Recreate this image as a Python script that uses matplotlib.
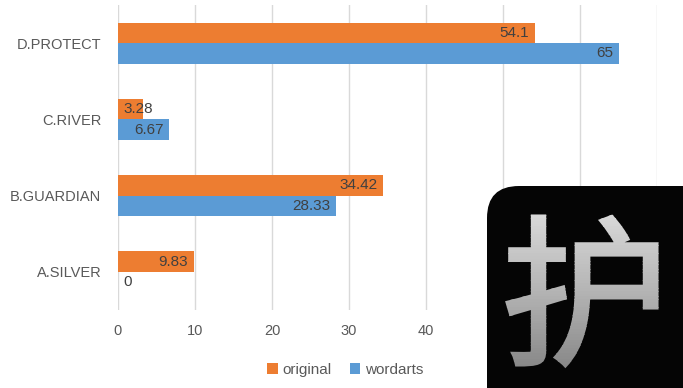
import numpy as np
import matplotlib
matplotlib.use("Agg")
import matplotlib.pyplot as plt
from matplotlib.patches import FancyBboxPatch, PathPatch, Rectangle
from matplotlib.textpath import TextPath
from matplotlib.font_manager import FontProperties
from matplotlib.transforms import Affine2D
from matplotlib.colors import LinearSegmentedColormap

plt.rcParams['font.family'] = ['Liberation Sans', 'DejaVu Sans']

categories = ['A.SILVER', 'B.GUARDIAN', 'C.RIVER', 'D.PROTECT']
original = [9.83, 34.42, 3.28, 54.1]
wordarts = [0, 28.33, 6.67, 65]
x_ticks = [0, 10, 20, 30, 40, 50, 60, 70]

c_orig = '#ED7D31'
c_word = '#5B9BD5'
grey = '#595959'

fig = plt.figure(figsize=(6.83, 3.88), dpi=100)
ax = fig.add_axes([118 / 683, 78 / 388, 539 / 683, 305 / 388])

y = np.arange(len(categories))
h = 0.27
ax.barh(y + h / 2, original, height=h, color=c_orig, label='original', zorder=3)
ax.barh(y - h / 2, wordarts, height=h, color=c_word, label='wordarts', zorder=3)

# value labels: inside the bar end, or from the base when the bar is too short
for vals, off in ((original, h / 2), (wordarts, -h / 2)):
    for yi, v in zip(y, vals):
        if v < 5:
            ax.annotate(f'{v:g}', (0, yi + off), xytext=(4, 0), textcoords='offset points',
                        ha='left', va='center', fontsize=11, color='#404040', zorder=4)
        else:
            ax.annotate(f'{v:g}', (v, yi + off), xytext=(-4, 0), textcoords='offset points',
                        ha='right', va='center', fontsize=11, color='#404040', zorder=4)

ax.set_xlim(0, 70)
ax.set_ylim(-0.5, 3.5)
ax.set_xticks(x_ticks)
ax.set_yticks(y)
ax.set_yticklabels(categories)
ax.grid(axis='x', color='#D9D9D9', linewidth=1, zorder=0)
for s in ax.spines.values():
    s.set_visible(False)
ax.tick_params(length=0, labelsize=10.5, colors=grey)
ax.tick_params(axis='y', pad=12)
ax.tick_params(axis='x', pad=10)

fig.legend(loc='center', bbox_to_anchor=(345 / 683, 18 / 388), ncol=2, frameon=False,
           fontsize=11, labelcolor=grey, handlelength=0.7, handleheight=0.7,
           handletextpad=0.3, columnspacing=1.2)

# black badge with a silver character, drawn in pixel coordinates
ov = fig.add_axes([0, 0, 1, 1], zorder=10)
ov.set_xlim(0, 683)
ov.set_ylim(388, 0)
ov.axis('off')
ov.patch.set_alpha(0)

badge = FancyBboxPatch((487, 186), 260, 260, boxstyle='round,pad=0,rounding_size=32',
                       facecolor='#050505', edgecolor='none')
ov.add_patch(badge)

fp = FontProperties(family='Noto Sans CJK SC')
tp = TextPath((0, 0), '护', size=168, prop=fp)
bb = tp.get_extents()
tr = Affine2D().translate(-bb.x0, -bb.y1).scale(150 / bb.width, -150 / bb.height).translate(507, 216)
gpath = tr.transform_path(tp)

# silver gradient: horizontal strips of the stroked glyph, light at top, darker below
silver = LinearSegmentedColormap.from_list('silver', ['#dadada', '#b4b4b4', '#868686'])
top, bottom, n = 210, 372, 60
edges = np.linspace(top, bottom, n + 1)
for i in range(n):
    col = silver(i / (n - 1))
    band = Rectangle((495, edges[i]), 180, edges[i + 1] - edges[i] + 0.5,
                     transform=ov.transData, visible=False)
    ov.add_patch(band)
    p = PathPatch(gpath, facecolor=col, edgecolor=col, linewidth=2.2,
                  transform=ov.transData, zorder=11)
    ov.add_patch(p)
    p.set_clip_path(band)

fig.savefig('out.png', dpi=100)
